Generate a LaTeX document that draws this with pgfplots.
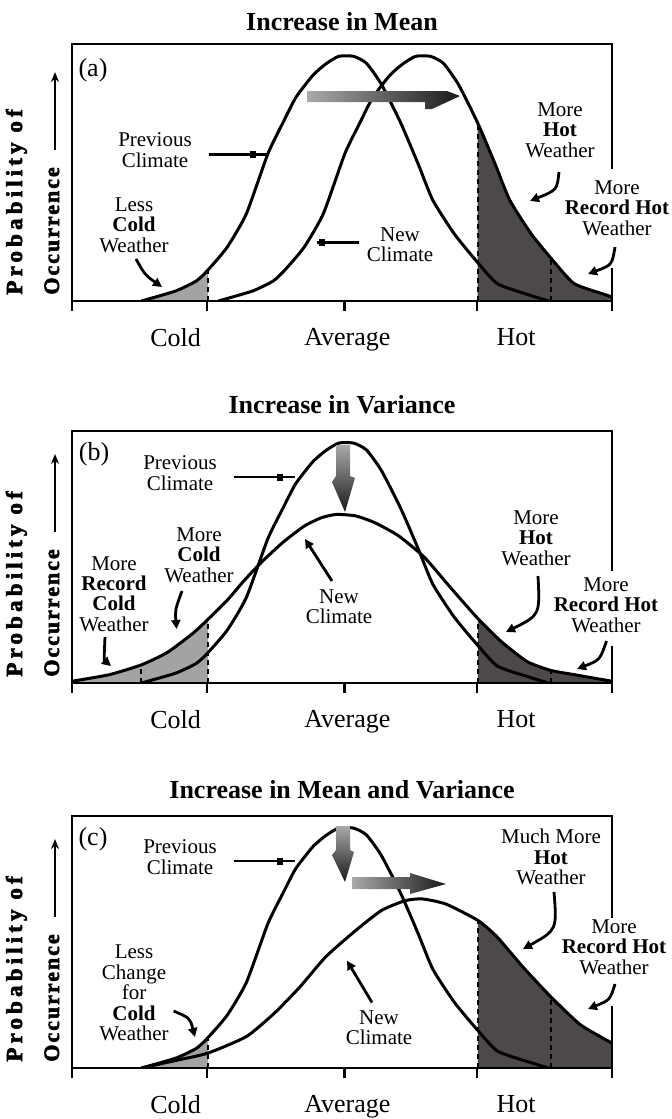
\documentclass[border=0pt]{standalone}
\usepackage{fontspec}
\setmainfont{Liberation Serif}
\newfontfamily\ylabfont[LetterSpace=9,FakeBold=2.5]{Liberation Serif}
\newfontfamily\ylabfontwide[LetterSpace=18,FakeBold=2.5]{Liberation Serif}
\usepackage{pgfplots}
\usepackage{pgfplotstable}
\pgfplotsset{compat=1.18}
\usetikzlibrary{arrows.meta}
\definecolor{lightfill}{RGB}{163,163,163}
\definecolor{darkfill}{RGB}{77,73,73}
\definecolor{arrowlight}{RGB}{170,170,170}
\definecolor{arrowdark}{RGB}{25,25,25}

\pgfplotstableread{
x y
0.514 0
0.768 0.039
0.921 0.078
1.006 0.120
1.149 0.209
1.292 0.340
1.451 0.573
1.562 0.693
1.657 0.791
1.784 0.878
1.879 0.922
1.975 0.952
2.086 0.952
2.181 0.925
2.292 0.843
2.435 0.693
2.562 0.536
2.673 0.392
2.832 0.261
2.990 0.159
3.149 0.068
3.371 0.026
3.530 0
}\prevclimate

\pgfplotstableread{
x y
1.084 0
1.338 0.039
1.491 0.078
1.576 0.120
1.719 0.209
1.862 0.340
2.021 0.573
2.132 0.693
2.227 0.791
2.354 0.878
2.449 0.922
2.545 0.952
2.656 0.952
2.751 0.925
2.862 0.843
3.005 0.693
3.132 0.536
3.243 0.392
3.402 0.261
3.560 0.159
3.719 0.068
3.941 0.026
4.000 0.016
}\newmean

\pgfplotstableread{
x y
0.000 0.007
0.276 0.033
0.514 0.072
0.705 0.121
0.895 0.197
1.006 0.252
1.149 0.328
1.276 0.407
1.403 0.479
1.562 0.558
1.721 0.623
1.848 0.656
1.959 0.669
2.102 0.663
2.244 0.636
2.419 0.584
2.610 0.499
2.800 0.381
3.006 0.256
3.181 0.164
3.371 0.085
3.546 0.050
3.721 0.033
4.000 0.007
}\newvar

\pgfplotstableread{
x y
0.514 0
0.768 0.030
1.006 0.059
1.292 0.125
1.498 0.217
1.689 0.322
1.879 0.441
2.102 0.546
2.292 0.625
2.467 0.664
2.594 0.671
2.768 0.651
3.006 0.586
3.149 0.520
3.340 0.401
3.546 0.283
3.768 0.171
4.000 0.099
}\newboth

\pgfplotsset{
  panel/.style={
    scale only axis, width=270pt, anchor=south west,
    xmin=0, xmax=4, ymin=0, ymax=1,
    axis on top,
    axis line style={line width=1.25pt},
    xtick={0,1,2.02,3,4}, xticklabels={,,,,},
    ytick=\empty,
    xtick pos=bottom, tick align=outside,
    major tick length=5pt,
    tick style={black, line width=1.25pt},
    extra x ticks={0.768,2.04,3.29},
    extra x tick labels={Cold,Average,Hot},
    extra x tick style={major tick length=0pt, tick label style={yshift=-10pt}},
    xticklabel style={font=\fontsize{13}{13}\selectfont},
  },
  curve/.style={black, line width=1.5pt, smooth, tension=0.35, line join=round, no marks},
  fillc/.style={draw=none, smooth, tension=0.35, no marks, fill=#1},
  dash/.style={black, line width=1pt, dash pattern=on 2.5pt off 2pt, no marks},
}
\tikzset{
  ptr/.style={line width=1.4pt, -{Triangle[length=4.5pt,width=4.5pt]}},
  ann/.style={align=center, inner sep=0pt, font=\fontsize{10.5}{10.2}\selectfont},
  ttl/.style={font=\fontsize{13}{13}\selectfont\bfseries},
  ylab/.style={rotate=90, anchor=base west, inner sep=0pt, font=\ylabfont\bfseries\fontsize{11}{11}\selectfont},
  ylabw/.style={rotate=90, anchor=base west, inner sep=0pt, font=\ylabfontwide\bfseries\fontsize{11.5}{11.5}\selectfont},
}
\newcommand\sq[2]{\fill (#1-3,#2-3.5) rectangle (#1+3,#2+3.5);}

\begin{document}
\begin{tikzpicture}[x=0.5pt,y=-0.5pt]
\path[use as bounding box] (0,0) rectangle (671,1119);

% ---------------- panel (a)
\begin{axis}[panel, at={(36pt,-150.5pt)}, height=128.5pt]
\addplot[fillc=lightfill, restrict x to domain=0.5:1.01] table {\prevclimate} \closedcycle;
\addplot[fillc=darkfill, restrict x to domain=3.0:4.0] table {\newmean} \closedcycle;
\addplot[dash] coordinates {(1.006,0) (1.006,0.120)};
\addplot[dash] coordinates {(3.005,0) (3.005,0.693)};
\addplot[dash] coordinates {(3.546,0) (3.546,0.168)};
\addplot[curve] table {\prevclimate};
\addplot[curve] table {\newmean};
\end{axis}

% ---------------- panel (b)
\begin{axis}[panel, at={(36pt,-341.5pt)}, height=126pt]
\addplot[fillc=lightfill, restrict x to domain=0:1.01] table {\newvar} \closedcycle;
\addplot[fillc=darkfill, restrict x to domain=3.0:4.0] table {\newvar} \closedcycle;
\addplot[dash] coordinates {(0.514,0) (0.514,0.072)};
\addplot[dash] coordinates {(1.006,0) (1.006,0.252)};
\addplot[dash] coordinates {(3.006,0) (3.006,0.256)};
\addplot[dash] coordinates {(3.546,0) (3.546,0.050)};
\addplot[curve] table {\prevclimate};
\addplot[curve] table {\newvar};
\end{axis}

% ---------------- panel (c)
\begin{axis}[panel, at={(36pt,-534pt)}, height=126pt]
\addplot[fillc=lightfill, restrict x to domain=0.5:1.01] table {\prevclimate} \closedcycle;
\addplot[fillc=darkfill, restrict x to domain=3.0:4.0] table {\newboth} \closedcycle;
\addplot[dash] coordinates {(1.006,0) (1.006,0.120)};
\addplot[dash] coordinates {(3.006,0) (3.006,0.586)};
\addplot[dash] coordinates {(3.546,0) (3.546,0.283)};
\addplot[curve] table {\prevclimate};
\addplot[curve] table {\newboth};
\end{axis}

% ---------------- titles
\node[ttl] at (342,22) {Increase in Mean};
\node[ttl] at (342,405) {Increase in Variance};
\node[ttl] at (342,790) {Increase in Mean and Variance};

% ---------------- y labels
\foreach \ay in {301,683,1068}{
  \node[ylabw] at (22,\ay-6) {Probability of};
  \node[ylab] at (59,\ay-6) {Occurrence};
  \draw[line width=1pt, -{Stealth[length=5pt,width=4pt]}] (55,\ay-151) -- (55,\ay-229);
}

% ---------------- white gaps on right frame
\fill[white] (603,169) rectangle (621,268);
\fill[white] (603,571) rectangle (621,646);
\fill[white] (603,920) rectangle (621,1006);

% ---------------- gradient arrows
\shade[left color=arrowlight, right color=arrowdark] (307,91) -- (447,91) -- (460,96) -- (432,109) -- (425,109) -- (425,102) -- (307,102) -- cycle;
\shade[top color=arrowlight, bottom color=arrowdark] (336,445) -- (350,445) -- (350,476) -- (355,478) -- (345,512) -- (332,482) -- (336,476) -- cycle;
\shade[top color=arrowlight, bottom color=arrowdark] (336,826) -- (350,826) -- (350,850) -- (354,852) -- (345,882) -- (332,855) -- (336,850) -- cycle;
\shade[left color=arrowlight, right color=arrowdark] (352,877) -- (410,877) -- (410,873) -- (446,884) -- (410,894) -- (410,889) -- (352,889) -- cycle;

% ---------------- panel (a) annotations
\node[font=\fontsize{13}{13}\selectfont] at (93,70) {(a)};
\node[ann] at (155,150) {Previous\\Climate};
\draw[line width=1.4pt] (209,154.5) -- (268,154.5); \sq{253}{154.5}
\node[ann] at (400,245) {New\\Climate};
\draw[line width=1.4pt] (317,242.5) -- (359,242.5); \sq{322}{242.5}
\node[ann] at (134,225) {Less\\\textbf{Cold}\\Weather};
\draw[ptr] (136,259) .. controls (145,275) .. (162,287);
\node[ann] at (560,130) {More\\\textbf{Hot}\\Weather};
\draw[ptr] (559,172) .. controls (557,190) .. (530,201);
\node[ann, fill=white, inner sep=1pt] at (617,208) {More\\\textbf{Record Hot}\\Weather};
\draw[ptr] (615,247) .. controls (612,265) .. (588,274);

% ---------------- panel (b) annotations
\node[font=\fontsize{13}{13}\selectfont] at (94,454) {(b)};
\node[ann] at (180,473) {Previous\\Climate};
\draw[line width=1.4pt] (233.6,477) -- (295,477); \sq{279.5}{477}
\node[ann] at (339,607) {New\\Climate};
\draw[ptr] (332,581) -- (305,539);
\node[ann] at (199,555) {More\\\textbf{Cold}\\Weather};
\draw[ptr] (182,591) .. controls (175,610) .. (176.6,629);
\node[ann] at (114,594) {More\\\textbf{Record}\\\textbf{Cold}\\Weather};
\draw[ptr] (105,637) .. controls (104,660) .. (111,666);
\node[ann] at (536,538) {More\\\textbf{Hot}\\Weather};
\draw[ptr] (538,576) .. controls (540,615) .. (506,632);
\node[ann, fill=white, inner sep=1pt] at (606,605) {More\\\textbf{Record Hot}\\Weather};
\draw[ptr] (606.5,641) .. controls (600,660) .. (577,669);

% ---------------- panel (c) annotations
\node[font=\fontsize{13}{13}\selectfont] at (93,839) {(c)};
\node[ann] at (180,857) {Previous\\Climate};
\draw[line width=1.4pt] (233.6,861) -- (295,861); \sq{279.5}{861}
\node[ann] at (379,1028) {New\\Climate};
\draw[ptr] (372,1002.5) -- (347,960.7);
\node[ann] at (134,993) {Less\\Change\\for\\\textbf{Cold}\\Weather};
\draw[ptr] (173.6,1011) .. controls (190,1018) .. (195,1037);
\node[ann] at (551,857) {Much More\\\textbf{Hot}\\Weather};
\draw[ptr] (554,892) .. controls (557,930) .. (523,949);
\node[ann, fill=white, inner sep=1pt] at (614,947) {More\\\textbf{Record Hot}\\Weather};
\draw[ptr] (615,984) .. controls (610,1000) .. (588,1009);
\end{tikzpicture}
\end{document}
